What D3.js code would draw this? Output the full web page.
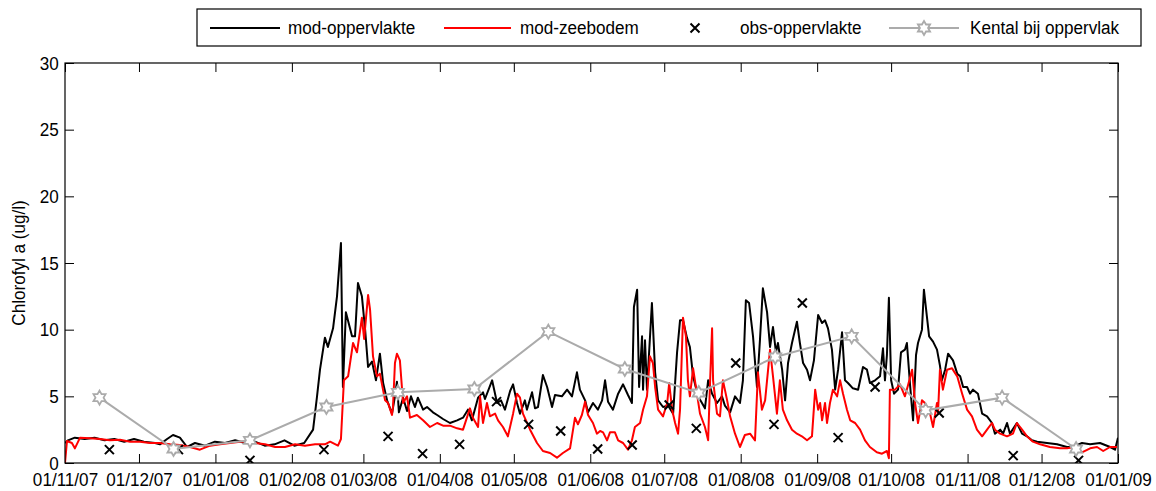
<!DOCTYPE html>
<html>
<head>
<meta charset="utf-8">
<script src="https://cdn.jsdelivr.net/npm/d3@7"></script>
<style>
  html, body { margin: 0; padding: 0; background: #fff; }
  svg { display: block; font-family: "Liberation Sans", Arial, sans-serif; }
</style>
</head>
<body>
<svg id="chart" width="1156" height="491"></svg>
<script>
// Time is counted in days since 1 November 2007.
const startDate = Date.UTC(2007, 10, 1);
const endDate = Date.UTC(2009, 0, 1);

// Month ticks along the time axis
const monthTicks = ["2007-11-01","2007-12-01","2008-01-01","2008-02-01","2008-03-01","2008-04-01",
  "2008-05-01","2008-06-01","2008-07-01","2008-08-01","2008-09-01","2008-10-01","2008-11-01",
  "2008-12-01","2009-01-01"];
const monthLabels = ["01/11/07","01/12/07","01/01/08","01/02/08","01/03/08","01/04/08","01/05/08",
  "01/06/08","01/07/08","01/08/08","01/09/08","01/10/08","01/11/08","01/12/08","01/01/09"];
const chlTicks = [0, 5, 10, 15, 20, 25, 30];

// Model, surface layer: [day, chlorophyll a (ug/l)]
const modSurface = [[0,1.5],[1.2,1.7],[4,1.9],[8,1.8],[12,1.9],[16,1.7],[20,1.8],[24,1.6],[28,1.8],[32,1.6],
[36.5,1.5],[38.5,1.4],[41.4,1.8],[43.8,2.1],[46.6,1.9],[49.5,1.2],[52.7,1.5],[56.8,1.3],[60.8,1.6],[64.9,1.5],
[69,1.7],[73,1.5],[77,1.6],[81,1.3],[85,1.4],[89,1.7],[93,1.3],[97,1.5],[100.6,2.5],[102.2,5.0],[103.4,7.0],
[105.4,9.4],[106.6,8.7],[108.7,10.1],[110.3,12.5],[111.9,16.5],[112.7,5.7],[113.9,11.3],[116.4,9.5],[117.6,9.5],
[118.8,13.5],[120.4,12.5],[121.7,10.0],[122.9,7.2],[124.5,7.6],[126.1,6.2],[127.7,8.2],[129,6.0],[130.6,4.7],
[132.6,3.7],[133.8,5.0],[134.6,6.1],[135.4,3.8],[137.1,4.9],[138.7,3.9],[140.3,5.0],[141.9,4.2],[143.1,4.9],
[145.2,4.0],[146.8,4.2],[149.2,3.8],[150.9,3.6],[153.3,3.3],[156.1,3.0],[159,3.2],[161.4,3.4],[163.4,4.0],
[165,3.2],[167.5,4.9],[169.5,5.3],[170.3,4.8],[173.2,6.2],[175.2,4.5],[176.8,4.7],[178.4,4.0],[180.5,5.4],
[181.7,5.9],[183.3,4.5],[184.5,3.7],[186.5,4.7],[187.3,4.0],[189.4,5.3],[190.6,4.1],[191.8,4.2],[193.8,6.6],
[195.5,5.7],[197.5,4.2],[198.7,5.1],[201.5,5.0],[203.6,5.5],[205.6,5.0],[207.6,6.8],[208.8,5.5],[210.9,4.7],
[212.1,3.8],[214.1,4.5],[216.1,4.0],[217.8,4.7],[219,6.2],[220.2,4.6],[222.2,4.0],[224.3,5.2],[226.3,5.9],
[228.3,5.1],[229.9,4.5],[230.7,11.7],[232,13.0],[232.8,5.7],[234,9.5],[234.4,5.5],[235.2,9.2],[236,5.5],
[238,12.0],[239.3,6.8],[240.5,4.7],[242.5,4.2],[244.6,4.3],[246.6,3.7],[248.2,8.3],[249.4,10.7],[250.6,10.7],
[252.2,9.4],[253.4,8.7],[254.7,6.5],[256.7,5.0],[258.3,4.5],[259.5,4.1],[260.8,6.2],[262.4,5.2],[264.4,4.5],
[266.4,5.0],[267.6,4.3],[269.7,3.8],[271.7,5.0],[273.7,4.5],[274.9,6.2],[276.1,12.2],[277.4,12.0],[279,9.5],
[280.6,5.7],[281.8,9.2],[283,13.1],[284.7,11.3],[285.9,8.7],[287.1,10.2],[288.3,8.3],[289.1,9.0],[290.8,7.0],
[292,4.7],[293.2,7.5],[294.8,9.0],[296.8,10.6],[298,9.0],[299.3,7.5],[300.9,7.0],[302.1,6.2],[303.7,7.7],
[305.4,11.1],[307,10.5],[308.2,10.7],[309.4,10.1],[311,8.5],[312.3,5.5],[313.5,7.0],[315.1,9.8],[316.3,6.2],
[317.5,6.0],[319.5,5.6],[321.6,5.5],[323.6,7.2],[325.2,7.0],[326.4,6.0],[328.5,6.2],[330.5,6.5],[331.7,8.6],
[332.5,6.2],[333.3,8.1],[334.1,12.4],[335,6.2],[336.2,5.2],[337.8,5.5],[339,8.3],[340.6,8.5],[341.4,9.0],
[342.7,5.8],[343.9,3.2],[345.1,8.1],[345.9,9.0],[347.5,10.0],[348.3,13.0],[349.5,11.0],[350.4,9.5],[352,9.1],
[353.6,8.5],[354.8,7.3],[355.6,6.2],[356.9,7.0],[358.1,8.2],[360.1,7.7],[361.8,6.7],[363,6.5],[364.2,5.7],
[365.8,5.7],[367,5.2],[368.2,5.5],[370.2,5.2],[371.9,3.7],[373.9,3.5],[375.9,3.0],[377.1,2.2],[379.2,2.5],
[380.4,2.2],[382,3.0],[383.2,2.2],[386,3.0],[388.1,2.2],[390.1,2.0],[392.1,1.7],[394.2,1.6],[398.2,1.5],
[402.3,1.4],[406.3,1.2],[408.8,1.2],[412.4,1.5],[415.7,1.4],[419.7,1.5],[423.8,1.2],[425.8,1.0],[427,1.9]];

// Model, bottom layer: [day, chlorophyll a (ug/l)]
const modBottom = [[0,0],[0.8,1.65],[2.8,1.5],[4,1.1],[6.1,1.9],[10.1,1.85],[14.2,1.8],[18.2,1.7],[22.3,1.75],
[26.4,1.6],[30.4,1.6],[34.5,1.5],[38.5,1.5],[42.6,1.4],[46.6,1.35],[50.7,1.2],[54.7,1.0],[58.8,1.3],[62.9,1.4],
[66.9,1.5],[71,1.6],[73.8,1.6],[77,1.5],[81.1,1.4],[85.2,1.2],[89.2,1.2],[93.3,1.4],[97.3,1.3],[101.4,1.4],
[105.4,1.4],[107.5,1.6],[110.7,1.3],[111.9,1.8],[113.1,6.2],[114.8,6.5],[116.8,9.0],[118.4,8.3],[120.4,10.9],
[121.3,9.3],[122.9,12.6],[123.7,11.5],[124.9,8.0],[126.5,6.5],[127.7,6.7],[129.8,4.7],[131,4.5],[132.6,3.6],
[133,4.2],[133.8,7.5],[134.6,8.2],[135.8,7.7],[137.1,4.5],[138.7,5.0],[139.9,3.4],[142.7,3.6],[145.2,3.2],
[148,2.7],[150.9,3.0],[153.3,2.8],[156.1,2.8],[159,2.6],[161.4,2.5],[164.2,4.1],[165.4,3.4],[167.5,2.7],
[168.3,5.0],[169.5,3.0],[171.1,4.5],[172.3,3.5],[174.4,3.7],[175.6,3.2],[177.6,2.7],[179.6,2.0],[181.7,3.7],
[183.3,5.2],[184.5,4.9],[185.7,3.7],[188.6,2.5],[191.4,1.5],[193.8,0.9],[196.7,0.75],[199.5,0.4],[201.9,0.75],
[204.8,1.1],[206.8,3.4],[208,2.9],[209.6,3.6],[210.9,4.6],[212.1,3.6],[214.1,3.0],[215.7,2.2],[217,2.4],
[218.2,2.3],[219.8,1.7],[221,2.3],[223,2.3],[224.3,1.7],[226.3,1.5],[228.3,1.0],[229.9,1.7],[231.1,2.7],
[233.2,3.0],[234.4,4.0],[236,5.0],[237.2,8.0],[238.4,7.5],[239.3,5.7],[240.5,4.0],[242.5,3.5],[244.2,4.5],
[245,6.0],[246.2,4.0],[247.4,3.0],[248.6,2.2],[249.4,4.0],[250.6,10.9],[251.8,9.5],[252.6,6.2],[253.4,5.0],
[254.7,7.1],[256,5.5],[257.5,3.7],[259.5,2.7],[260.8,1.7],[261.6,6.2],[262.4,10.1],[262.8,6.2],[264.4,3.7],
[265.6,3.5],[266.8,6.2],[268.5,4.7],[269.7,3.5],[271.7,2.2],[273.7,1.2],[275.7,2.1],[277.8,2.2],[279.8,1.7],
[281,6.8],[282.6,4.0],[283.9,4.7],[285.9,8.5],[287.1,6.5],[288.7,3.7],[289.9,6.2],[291.1,4.0],[292.8,3.2],
[294.8,2.5],[296.8,2.2],[298.8,2.0],[300.9,1.7],[302.9,2.0],[304.2,5.5],[305.4,4.0],[306.2,4.5],[307,3.2],
[308.2,4.5],[309,3.0],[310.2,4.5],[311.4,5.5],[313.1,5.0],[314.3,6.2],[315.5,5.2],[317.1,4.0],[318.4,3.2],
[320.4,3.0],[322.4,2.5],[324.4,1.7],[326.4,1.2],[329.2,0.8],[331.3,0.7],[333.3,0.9],[334.1,0.35],[334.5,5.5],
[336.6,5.5],[338.6,5.9],[340.6,5.0],[341.8,5.8],[343.5,7.0],[344.7,4.5],[345.9,3.0],[347.5,4.7],[348.7,4.5],
[350.8,3.7],[352,2.7],[353.6,4.5],[354,3.7],[354.8,7.0],[356,5.5],[357.7,7.0],[359.7,7.1],[361.8,6.5],
[363.8,5.2],[365.8,4.0],[367.8,3.5],[369.8,2.5],[371.9,2.0],[373.9,2.5],[375.9,3.0],[377.1,2.5],[379.2,2.2],
[382,2.0],[384.4,2.2],[386,3.0],[388.1,2.5],[390.1,2.0],[392.5,1.6],[395.4,1.4],[399.4,1.2],[403.5,1.1],
[406.3,1.1],[409.6,1.2],[412.4,0.8],[415.7,1.1],[418.5,1.2],[421,0.9],[423.8,1.2],[426.6,1.2]];

// Observations at the surface: [day, chlorophyll a (ug/l)]
const obsSurface = [[18,1.0],[46,1.0],[75,0.2],[105,1.0],[131,2.0],[145,0.7],[160,1.4],[175,4.6],[188,2.9],
[201,2.4],[216,1.05],[230,1.35],[245,4.35],[256,2.6],[272,7.5],[287.5,2.9],[299,12.0],[313.5,1.9],[328.5,5.7],
[354.5,3.75],[384.5,0.55],[411,0.2]];

// Monthly reference value at the surface (mid-month)
const kentalDates = ["2007-11-15","2007-12-15","2008-01-15","2008-02-15","2008-03-15","2008-04-15","2008-05-15",
  "2008-06-15","2008-07-15","2008-08-15","2008-09-15","2008-10-15","2008-11-15","2008-12-15"];
const kentalValues = [4.9, 1.05, 1.7, 4.2, 5.3, 5.55, 9.85, 7.05, 5.25, 7.95, 9.5, 3.95, 4.9, 1.05];

const legendNames = ["mod-oppervlakte", "mod-zeebodem", "obs-oppervlakte", "Kental bij oppervlak"];

const colSurface = "#000000", colBottom = "#ff0000", colKental = "#ababab";

const svg = d3.select("#chart");
const plotLeft = 65, plotRight = 1118, plotTop = 63, plotBottom = 463;

const x = d3.scaleUtc().domain([startDate, endDate]).range([plotLeft, plotRight]);
const y = d3.scaleLinear().domain([0, 30]).range([plotBottom, plotTop]);
const dayToDate = d => new Date(startDate + d * 864e5);
const parseIso = s => new Date(s + "T00:00:00Z");

// clip region for data
svg.append("defs").append("clipPath").attr("id", "plotClip")
  .append("rect").attr("x", plotLeft).attr("y", plotTop)
  .attr("width", plotRight - plotLeft).attr("height", plotBottom - plotTop);

// slightly narrow lettering
const fontSize = "19px";
const squeeze = 0.9;

// Axes with inward ticks
const xTickDates = monthTicks.map(parseIso);
const xAxis = d3.axisBottom(x).tickValues(xTickDates)
  .tickFormat((d, i) => monthLabels[i]).tickSizeInner(-9).tickSizeOuter(0).tickPadding(10);
const gx = svg.append("g").attr("transform", `translate(0,${plotBottom})`).call(xAxis);
gx.select(".domain").remove();
gx.selectAll("text").attr("font-size", "18px").attr("font-family", "Liberation Sans, Arial, sans-serif")
  .attr("fill", "#000").attr("transform", "scale(0.95,1)");
gx.selectAll("line").attr("stroke", "#000");

const xAxisTop = d3.axisTop(x).tickValues(xTickDates).tickFormat("").tickSizeInner(-9).tickSizeOuter(0);
const gxt = svg.append("g").attr("transform", `translate(0,${plotTop})`).call(xAxisTop);
gxt.select(".domain").remove();
gxt.selectAll("line").attr("stroke", "#000");

const yAxis = d3.axisLeft(y).tickValues(chlTicks).tickSizeInner(-9).tickSizeOuter(0).tickPadding(7);
const gy = svg.append("g").attr("transform", `translate(${plotLeft},0)`).call(yAxis);
gy.select(".domain").remove();
gy.selectAll("text").attr("font-size", fontSize).attr("font-family", "Liberation Sans, Arial, sans-serif")
  .attr("fill", "#000").attr("transform", `scale(${squeeze},1)`);
gy.selectAll("line").attr("stroke", "#000");

const yAxisRight = d3.axisRight(y).tickValues(chlTicks).tickFormat("").tickSizeInner(-9).tickSizeOuter(0);
const gyr = svg.append("g").attr("transform", `translate(${plotRight},0)`).call(yAxisRight);
gyr.select(".domain").remove();
gyr.selectAll("line").attr("stroke", "#000");

// Y axis title
svg.append("text")
  .attr("transform", `translate(19,${(plotTop + plotBottom) / 2}) rotate(-90) scale(${squeeze},1)`)
  .attr("text-anchor", "middle").attr("dominant-baseline", "central")
  .attr("font-size", fontSize).attr("fill", "#000")
  .text("Chlorofyl a (ug/l)");

// Data layer
const plot = svg.append("g").attr("clip-path", "url(#plotClip)");
const line = d3.line().x(d => x(dayToDate(d[0]))).y(d => y(d[1]));

plot.append("path").datum(modSurface).attr("d", line)
  .attr("fill", "none").attr("stroke", colSurface).attr("stroke-width", 2).attr("stroke-linejoin", "round");
plot.append("path").datum(modBottom).attr("d", line)
  .attr("fill", "none").attr("stroke", colBottom).attr("stroke-width", 2).attr("stroke-linejoin", "round");

// cross marker
const crossPath = r => `M${-r},${-r}L${r},${r}M${-r},${r}L${r},${-r}`;
plot.append("g").selectAll("path").data(obsSurface).join("path")
  .attr("transform", d => `translate(${x(dayToDate(d[0]))},${y(d[1])})`)
  .attr("d", crossPath(4.5)).attr("stroke", "#000").attr("stroke-width", 2).attr("fill", "none");

// six-pointed star marker
function hexagram(R) {
  const pts = [];
  for (let i = 0; i < 12; i++) {
    const a = -Math.PI / 2 + i * Math.PI / 6;
    const r = i % 2 === 0 ? R : R / Math.sqrt(3);
    pts.push([r * Math.cos(a), r * Math.sin(a)]);
  }
  return "M" + pts.map(p => p[0].toFixed(2) + "," + p[1].toFixed(2)).join("L") + "Z";
}

const kental = kentalDates.map((s, i) => ({ date: parseIso(s), value: kentalValues[i] }));
plot.append("path").datum(kental)
  .attr("d", d3.line().x(d => x(d.date)).y(d => y(d.value)))
  .attr("fill", "none").attr("stroke", colKental).attr("stroke-width", 2);
plot.append("g").selectAll("path").data(kental).join("path")
  .attr("transform", d => `translate(${x(d.date)},${y(d.value)})`)
  .attr("d", hexagram(7)).attr("fill", "#fff").attr("stroke", colKental).attr("stroke-width", 1.8);

// Frame
svg.append("rect").attr("x", plotLeft).attr("y", plotTop)
  .attr("width", plotRight - plotLeft).attr("height", plotBottom - plotTop)
  .attr("fill", "none").attr("stroke", "#000").attr("stroke-width", 1.2);

// Legend
const lg = svg.append("g");
lg.append("rect").attr("x", 197).attr("y", 9).attr("width", 944).attr("height", 37)
  .attr("fill", "#fff").attr("stroke", "#000").attr("stroke-width", 1.2);
const ly = 28;
const legendItems = [
  { kind: "line", color: colSurface, x0: 210, x1: 280, tx: 288 },
  { kind: "line", color: colBottom, x0: 444, x1: 511, tx: 520 },
  { kind: "cross", color: "#000", x0: 695, tx: 740 },
  { kind: "star", color: colKental, x0: 889, x1: 959, tx: 970 }
];
legendItems.forEach((it, i) => {
  if (it.kind === "line" || it.kind === "star") {
    lg.append("line").attr("x1", it.x0).attr("x2", it.x1).attr("y1", ly).attr("y2", ly)
      .attr("stroke", it.color).attr("stroke-width", 2);
  }
  if (it.kind === "star") {
    lg.append("path").attr("transform", `translate(${(it.x0 + it.x1) / 2},${ly})`)
      .attr("d", hexagram(7)).attr("fill", "#fff").attr("stroke", it.color).attr("stroke-width", 1.8);
  }
  if (it.kind === "cross") {
    lg.append("path").attr("transform", `translate(${it.x0},${ly})`)
      .attr("d", crossPath(4.5)).attr("stroke", it.color).attr("stroke-width", 2).attr("fill", "none");
  }
  lg.append("text").attr("transform", `translate(${it.tx},${ly}) scale(${squeeze},1)`)
    .attr("dominant-baseline", "central")
    .attr("font-size", fontSize).attr("fill", "#000").text(legendNames[i]);
});
</script>
</body>
</html>
